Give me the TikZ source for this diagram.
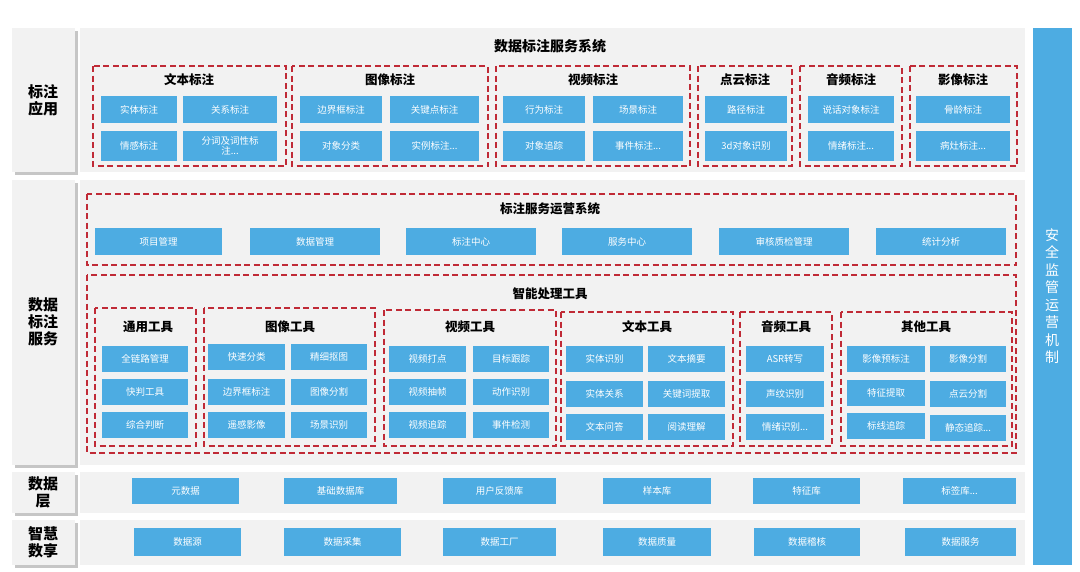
\documentclass[tikz,border=0pt]{standalone}
\usepackage{fontspec}
\setmainfont{Noto Sans CJK SC}
\begin{document}
\begin{tikzpicture}[x=1pt,y=-1pt]
\definecolor{bblue}{HTML}{4DACE2}
\definecolor{dred}{HTML}{C02A36}
\definecolor{pan}{HTML}{F2F2F2}
\tikzset{
 box/.style={fill=bblue,text=white,font=\fontsize{9.5}{10.5}\selectfont,inner sep=0pt,align=center},
 grp/.style={draw=dred,line width=1.5pt,dash pattern=on 6pt off 3.5pt},
 side/.style={fill=pan,draw=none,font=\bfseries\fontsize{15}{17}\selectfont,align=center},
 ttl/.style={font=\bfseries\fontsize{12.5}{14}\selectfont},
 bigttl/.style={font=\bfseries\fontsize{14}{16}\selectfont}
}
\newcommand{\bx}[6]{\node[box,minimum width={#4-#2},minimum height={#5-#3}] (#1) at ({(#2+#4)/2},{(#3+#5)/2}) {#6};}
\newcommand{\gp}[5]{\draw[grp] (#2,#3) rectangle (#4,#5); \coordinate (#1) at ({(#2+#4)/2},#3);}
\useasboundingbox (0,0) rectangle (1080,571);
\fill[white] (0,0) rectangle (1080,571);
% side labels
\foreach \a/\b/\n in {28/172/s1,180/465/s2,472/513/s3,520/565/s4}{
 \fill[gray!45] (15,\a+3) rectangle (78,\b+3);
 \fill[pan] (12,\a) rectangle (75,\b);
 \fill[pan] (80,\a) rectangle (1025,\b);
}
\node[side] (l1) at (43,100) {标注\\应用};
\node[side] (l2) at (43,322) {数据\\标注\\服务};
\node[side] (l3) at (43,492) {数据\\层};
\node[side] (l4) at (43,542) {智慧\\数享};
% right bar
\fill[bblue] (1033,28) rectangle (1072,565);
\node[text=white,font=\fontsize{14}{17.5}\selectfont,align=center] (rb) at (1052,296) {安\\全\\监\\管\\运\\营\\机\\制};
% top
\node[bigttl] (t1) at (550,46) {数据标注服务系统};
\gp{g1}{93}{66}{286}{166}\gp{g2}{292}{66}{488}{166}\gp{g3}{496}{66}{690}{166}
\gp{g4}{698}{66}{792}{166}\gp{g5}{800}{66}{902}{166}\gp{g6}{910}{66}{1017}{166}
\node[ttl] (tg1) at (189,80) {文本标注};
\node[ttl] (tg2) at (390,80) {图像标注};
\node[ttl] (tg3) at (593,80) {视频标注};
\node[ttl] (tg4) at (745,80) {点云标注};
\node[ttl] (tg5) at (851,80) {音频标注};
\node[ttl] (tg6) at (963,80) {影像标注};
\bx{a1}{101}{96}{177}{123}{实体标注}\bx{a2}{183}{96}{277}{123}{关系标注}
\bx{a3}{101}{131}{177}{161}{情感标注}\bx{a4}{183}{131}{277}{161}{分词及词性标\\注...}
\bx{a5}{300}{96}{382}{123}{边界框标注}\bx{a6}{390}{96}{479}{123}{关键点标注}
\bx{a7}{300}{131}{382}{161}{对象分类}\bx{a8}{390}{131}{479}{161}{实例标注...}
\bx{a9}{503}{96}{585}{123}{行为标注}\bx{a10}{593}{96}{683}{123}{场景标注}
\bx{a11}{503}{131}{585}{161}{对象追踪}\bx{a12}{593}{131}{683}{161}{事件标注...}
\bx{a13}{705}{96}{787}{123}{路径标注}\bx{a14}{705}{131}{787}{161}{3d对象识别}
\bx{a15}{808}{96}{894}{123}{说话对象标注}\bx{a16}{808}{131}{894}{161}{情绪标注...}
\bx{a17}{916}{96}{1010}{123}{骨龄标注}\bx{a18}{916}{131}{1010}{161}{病灶标注...}
% ops
\gp{g7}{87}{194}{1016}{265}
\node[ttl] (t2) at (550,209) {标注服务运营系统};
\bx{b1}{95}{228}{222}{255}{项目管理}\bx{b2}{250}{228}{380}{255}{数据管理}
\bx{b3}{406}{228}{536}{255}{标注中心}\bx{b4}{562}{228}{692}{255}{服务中心}
\bx{b5}{719}{228}{849}{255}{审核质检管理}\bx{b6}{876}{228}{1006}{255}{统计分析}
% tools
\gp{g8}{87}{275}{1016}{453}
\node[ttl] (t3) at (550,294) {智能处理工具};
\gp{h1}{95}{308}{196}{446}\gp{h2}{204}{308}{375}{446}\gp{h3}{384}{310}{556}{446}
\gp{h4}{561}{312}{733}{446}\gp{h5}{740}{312}{832}{446}\gp{h6}{841}{312}{1012}{446}
\node[ttl] (th1) at (148,327) {通用工具};
\node[ttl] (th2) at (290,327) {图像工具};
\node[ttl] (th3) at (470,327) {视频工具};
\node[ttl] (th4) at (647,327) {文本工具};
\node[ttl] (th5) at (786,327) {音频工具};
\node[ttl] (th6) at (926,327) {其他工具};
\bx{c1}{102}{346}{188}{372}{全链路管理}\bx{c2}{102}{379}{188}{405}{快判工具}\bx{c3}{102}{412}{188}{438}{综合判断}
\bx{c4}{208}{344}{285}{370}{快速分类}\bx{c5}{291}{344}{367}{370}{精细抠图}
\bx{c6}{208}{379}{285}{405}{边界框标注}\bx{c7}{291}{379}{367}{405}{图像分割}
\bx{c8}{208}{412}{285}{438}{遥感影像}\bx{c9}{291}{412}{367}{438}{场景识别}
\bx{c10}{389}{346}{466}{372}{视频打点}\bx{c11}{473}{346}{549}{372}{目标跟踪}
\bx{c12}{389}{379}{466}{405}{视频抽帧}\bx{c13}{473}{379}{549}{405}{动作识别}
\bx{c14}{389}{412}{466}{438}{视频追踪}\bx{c15}{473}{412}{549}{438}{事件检测}
\bx{c16}{566}{346}{643}{372}{实体识别}\bx{c17}{648}{346}{725}{372}{文本摘要}
\bx{c18}{566}{381}{643}{407}{实体关系}\bx{c19}{648}{381}{725}{407}{关键词提取}
\bx{c20}{566}{414}{643}{440}{文本问答}\bx{c21}{648}{414}{725}{440}{阅读理解}
\bx{c22}{746}{346}{824}{372}{ASR转写}\bx{c23}{746}{381}{824}{407}{声纹识别}\bx{c24}{746}{414}{824}{440}{情绪识别...}
\bx{c25}{847}{346}{925}{372}{影像预标注}\bx{c26}{930}{346}{1006}{372}{影像分割}
\bx{c27}{847}{380}{925}{406}{特征提取}\bx{c28}{930}{381}{1006}{407}{点云分割}
\bx{c29}{847}{413}{925}{439}{标线追踪}\bx{c30}{930}{415}{1006}{441}{静态追踪...}
% data layer
\bx{d1}{132}{478}{239}{504}{元数据}\bx{d2}{284}{478}{397}{504}{基础数据库}
\bx{d3}{443}{478}{556}{504}{用户反馈库}\bx{d4}{603}{478}{711}{504}{样本库}
\bx{d5}{753}{478}{860}{504}{特征库}\bx{d6}{903}{478}{1016}{504}{标签库...}
\bx{e1}{134}{528}{241}{556}{数据源}\bx{e2}{284}{528}{401}{556}{数据采集}
\bx{e3}{443}{528}{556}{556}{数据工厂}\bx{e4}{603}{528}{711}{556}{数据质量}
\bx{e5}{754}{528}{860}{556}{数据稽核}\bx{e6}{905}{528}{1016}{556}{数据服务}
\end{tikzpicture}
\end{document}
